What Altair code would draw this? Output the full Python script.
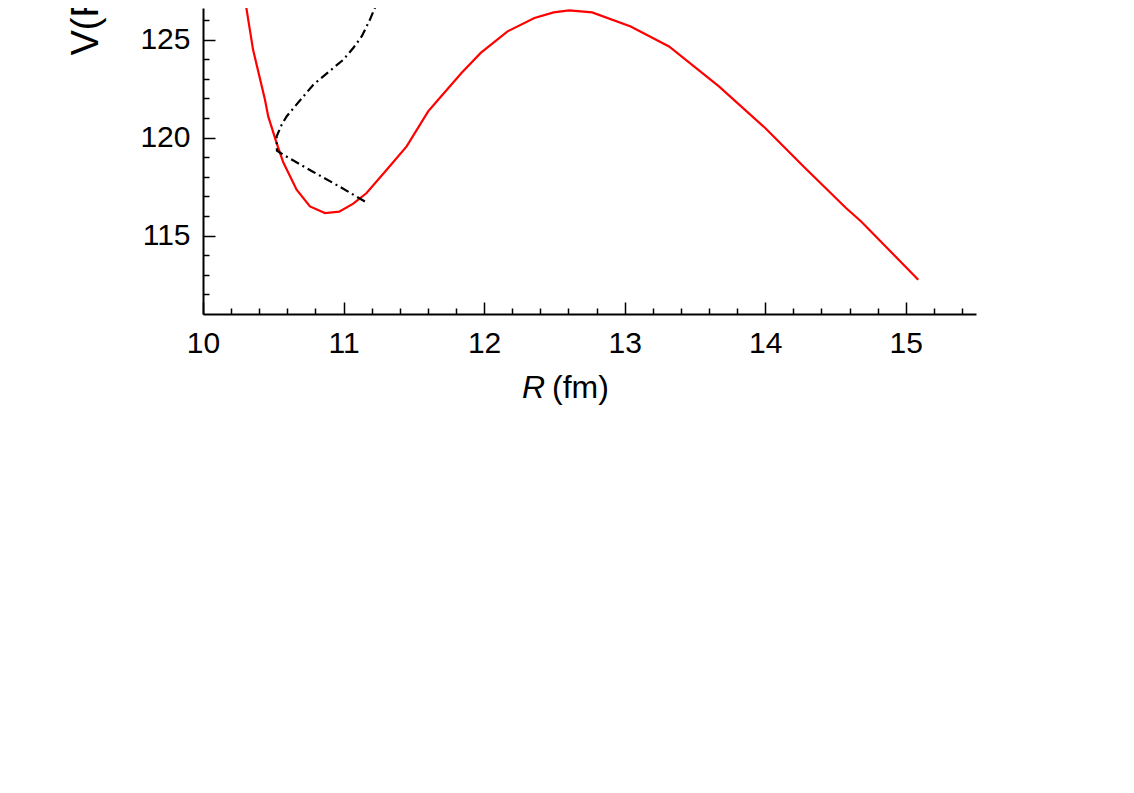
import altair as alt
import pandas as pd

# ---- data ----
red_R = [10.299, 10.356, 10.441, 10.464, 10.524, 10.571, 10.666, 10.761, 10.868, 10.969,
         11.069, 11.164, 11.307, 11.449, 11.602, 11.675, 11.839, 11.976, 12.167, 12.358,
         12.495, 12.605, 12.769, 13.043, 13.316, 13.671, 14.000, 14.273, 14.575, 14.683, 15.089]
red_V = [127.04, 124.49, 121.93, 121.08, 119.72, 118.74, 117.34, 116.49, 116.15, 116.22,
         116.63, 117.17, 118.36, 119.55, 121.34, 121.94, 123.30, 124.32, 125.42, 126.10,
         126.39, 126.49, 126.39, 125.67, 124.65, 122.61, 120.49, 118.53, 116.41, 115.72, 112.75]

blk_R = [11.152, 10.974, 10.782, 10.571, 10.526, 10.524, 10.560, 10.595, 10.654, 10.785,
         10.927, 10.998, 11.069, 11.129, 11.188, 11.247]
blk_V = [116.74, 117.49, 118.26, 119.13, 119.33, 120.06, 120.66, 121.08, 121.59, 122.70,
         123.55, 123.97, 124.57, 125.16, 126.02, 127.04]

x_major = [10, 11, 12, 13, 14, 15]
x_minor = [10.0, 10.2, 10.4, 10.6, 10.8, 11.0, 11.2, 11.4, 11.6, 11.8, 12.0, 12.2, 12.4, 12.6,
           12.8, 13.0, 13.2, 13.4, 13.6, 13.8, 14.0, 14.2, 14.4, 14.6, 14.8, 15.0, 15.2, 15.4]
y_major = [115, 120, 125]
y_minor = [112, 113, 114, 115, 116, 117, 118, 119, 120, 121, 122, 123, 124, 125, 126]

x_title_italic = "R"
x_title_rest = "(fm)"
y_title = "V(R) (MeV)"

df_red = pd.DataFrame({"R": red_R, "V": red_V, "i": range(len(red_R))})
df_blk = pd.DataFrame({"R": blk_R, "V": blk_V, "i": range(len(blk_R))})

W, H = 773, 306
FONT = "Liberation Sans"
xs = alt.Scale(domain=[10, 15.5], nice=False, zero=False)
ys = alt.Scale(domain=[111, 111 + H / 19.6], nice=False, zero=False)

x_lab = alt.Axis(orient="bottom", values=x_major, format="d", ticks=False, tickSize=0,
                 labelPadding=14, labelFontSize=30, labelFont=FONT, labelColor="black",
                 labelFlush=False, labelOverlap=False,
                 domainColor="black", domainWidth=2, title=None, grid=False)
y_lab = alt.Axis(orient="left", values=y_major, format="d", ticks=False, tickSize=0,
                 labelPadding=13, labelFontSize=30, labelFont=FONT, labelColor="black",
                 labelFlush=False, labelOverlap=False,
                 domainColor="black", domainWidth=2, grid=False,
                 title=y_title, titleFont=FONT, titleFontSize=38, titleFontWeight="normal",
                 titleColor="black", titleAngle=270, titleAlign="left",
                 titleBaseline="alphabetic", titleX=-106, titleY=47)

x_tick = alt.Axis(orient="top", offset=-H, values=x_minor, labels=False, domain=False,
                  tickSize={"condition": {"test": "abs(datum.value - round(datum.value)) < 0.01",
                                          "value": 12}, "value": 6},
                  tickColor="black", tickWidth=1.5, title=None, grid=False)
y_tick = alt.Axis(orient="right", offset=-W, values=y_minor, labels=False, domain=False,
                  tickSize={"condition": {"test": "datum.value % 5 === 0", "value": 12},
                            "value": 6},
                  tickColor="black", tickWidth=1.5, title=None, grid=False)

red = alt.Chart(df_red).mark_line(color="#ff0000", strokeWidth=2.2, clip=True).encode(
    x=alt.X("R:Q", scale=xs, axis=x_lab),
    y=alt.Y("V:Q", scale=ys, axis=y_lab),
    order="i:Q",
)
blk = alt.Chart(df_blk).mark_line(color="black", strokeWidth=2.2, strokeDash=[9, 4, 2, 4],
                                  clip=True).encode(
    x=alt.X("R:Q", scale=xs, axis=x_tick),
    y=alt.Y("V:Q", scale=ys, axis=y_tick),
    order="i:Q",
)

t1 = alt.Chart(pd.DataFrame({"t": [x_title_italic]})).mark_text(
    font=FONT, fontSize=32, fontStyle="italic", align="left", baseline="alphabetic",
    color="black").encode(x=alt.value(319), y=alt.value(390), text="t:N")
t2 = alt.Chart(pd.DataFrame({"t": [x_title_rest]})).mark_text(
    font=FONT, fontSize=32, align="left", baseline="alphabetic",
    color="black").encode(x=alt.value(349), y=alt.value(390), text="t:N")

chart = alt.layer(red, blk, t1, t2).resolve_axis(
    x="independent", y="independent"
).properties(
    width=W, height=H,
    autosize=alt.AutoSizeParams(type="none"),
    padding={"top": 0, "left": 195, "right": 20, "bottom": 120},
).configure_view(stroke=None)

chart.save("out.html", embed_options={"renderer": "svg", "actions": False})
